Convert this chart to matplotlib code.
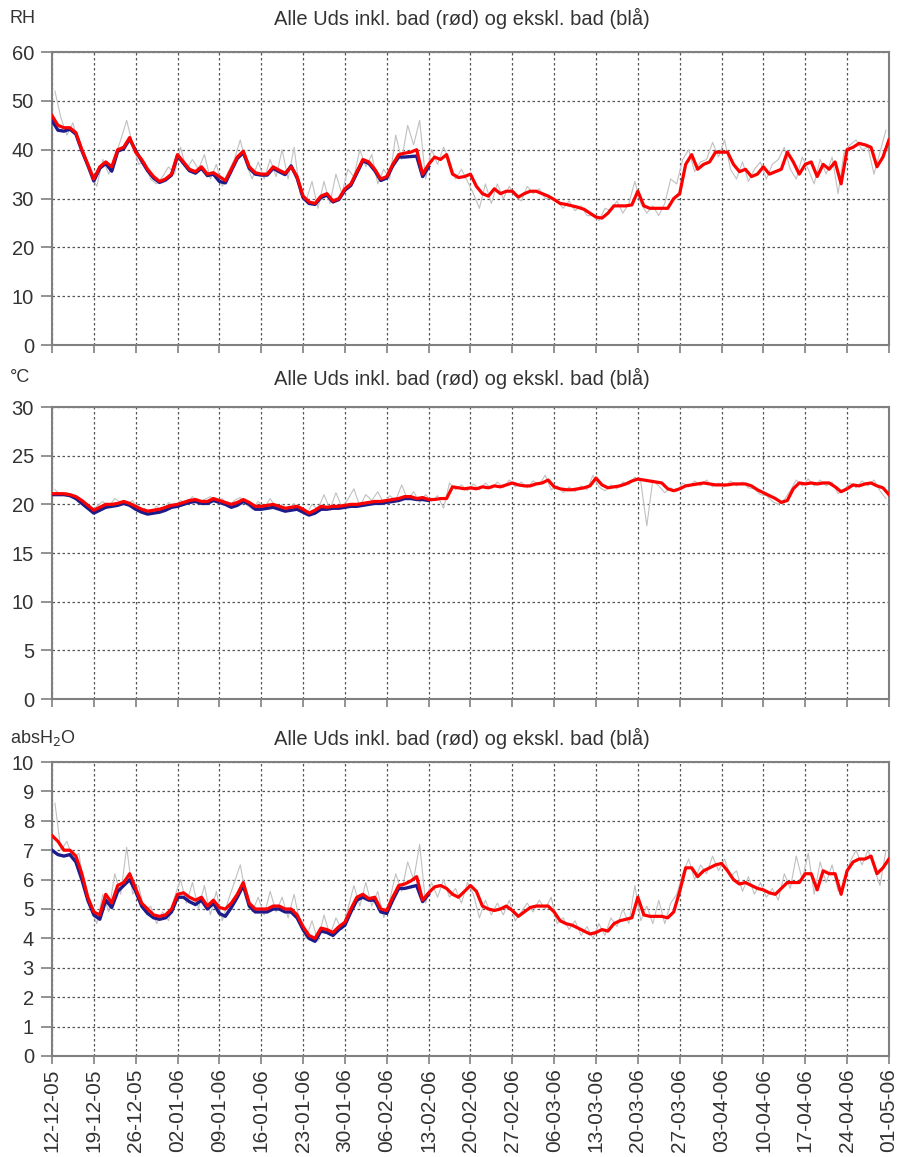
import pandas as pd
import matplotlib
matplotlib.use("Agg")
import matplotlib.pyplot as plt
import matplotlib.dates as mdates

plt.rcParams['font.family'] = ['Liberation Sans', 'DejaVu Sans']

# daily values, day 0 = 12-12-05, day 140 = 01-05-06
rh_red = [
    47, 45, 44.5, 44.5, 43.5, 40, 37, 34, 36.5, 37.5,
    36.5, 40, 40.5, 42.5, 39.5, 38, 36, 34.5, 33.5, 34,
    35, 39, 37.5, 36, 35.5, 36.5, 35, 35.3, 34.5, 33.7,
    36, 38.5, 39.7, 36.5, 35.3, 35, 35, 36.5, 35.8, 35.2,
    36.5, 34.5, 30.5, 29.3, 29, 30.5, 31, 29.5, 30, 32,
    33, 35.5, 38, 37.5, 36, 34, 34.5, 37, 39, 39.3,
    39.5, 40, 35, 37, 38.5, 38, 39, 35, 34.3, 34.5,
    35, 32.5, 31, 30.5, 32, 31, 31.5, 31.5, 30.3, 31,
    31.5, 31.5, 31, 30.5, 29.8, 29, 28.8, 28.5, 28.2, 27.8,
    27, 26.2, 26, 27, 28.5, 28.5, 28.5, 28.7, 31.5, 28.5,
    28, 28, 28, 28, 30, 31, 37, 39, 36, 37,
    37.5, 39.5, 39.5, 39.5, 37, 35.5, 36, 34.5, 35, 36.5,
    35, 35.5, 36, 39.5, 37.5, 35, 37, 37.5, 34.5, 37,
    36, 37.5, 33, 40, 40.5, 41.3, 41, 40.5, 36.5, 38.5,
    42,
]
rh_blue = [
    46, 44, 43.8, 44.2, 43.2, 39.8, 36.8, 33.6, 36.2, 37.2,
    35.6, 39.7, 40.2, 42.2, 39.8, 37.7, 35.7, 34.2, 33.3, 33.8,
    34.8, 38.8, 37.2, 35.7, 35.2, 36.2, 34.7, 35, 33.5, 33.2,
    35.7, 38.2, 39.4, 36.2, 35, 34.8, 34.8, 36.2, 35.5, 34.9,
    36.7, 34.2, 30.2, 29, 28.8, 30.2, 30.7, 29.3, 29.8, 31.7,
    32.7, 35.2, 37.7, 37.2, 35.7, 33.7, 34.2, 36.7, 38.5, 38.5,
    38.6, 38.7, 34.5, 36.5,
]
# raw readings, at mid-day
rh_gray = [
    52, 46.5, 43, 45.5, 41, 39, 35, 32.5, 38, 35,
    38.5, 42, 46, 41, 37, 37.5, 34, 33, 34.5, 36.5,
    35, 40.5, 36, 38, 36, 39, 34, 37, 32.5, 35.5,
    38, 42, 37, 34, 37.5, 34, 38, 34.5, 40, 34,
    40.5, 31, 29.5, 33.5, 28, 33.5, 29, 35, 31, 36,
    34.5, 40, 36.5, 39, 33, 36, 34, 43, 38, 45,
    41, 46, 34, 40, 37, 40.5, 38, 34, 36, 33.5,
    31, 28, 33, 29, 33, 30, 32.5, 30.5, 29.5, 32.5,
    31, 32, 30, 30, 29.5, 28, 29.5, 27.5, 28.5, 26.5,
    26.5, 25.5, 28, 27.5, 29.5, 27, 29, 33.5, 29, 27,
    28.5, 26.5, 29, 34, 33, 38, 40, 35.5, 37.5, 38,
    41.5, 38.5, 42, 36, 34, 37.5, 33.5, 36, 37.5, 34,
    37, 38, 40.5, 36, 34, 38.5, 36, 33, 38, 35,
    38.5, 31, 39.5, 41, 42, 40, 40.5, 35, 39.5, 44,
]

t_red = [
    21.1, 21.1, 21.1, 21.0, 20.8, 20.4, 19.9, 19.4, 19.7, 20.0,
    20.0, 20.1, 20.3, 20.1, 19.8, 19.5, 19.3, 19.4, 19.5, 19.7,
    19.9, 20.0, 20.2, 20.4, 20.5, 20.3, 20.3, 20.6, 20.4, 20.2,
    20.0, 20.2, 20.5, 20.2, 19.8, 19.8, 19.9, 20.0, 19.8, 19.6,
    19.7, 19.8, 19.5, 19.1, 19.4, 19.8, 19.7, 19.8, 19.8, 19.9,
    20.0, 20.0, 20.1, 20.2, 20.3, 20.3, 20.4, 20.5, 20.6, 20.8,
    20.8, 20.6, 20.7, 20.5, 20.5, 20.6, 20.6, 21.8, 21.7, 21.6,
    21.7, 21.6, 21.8, 21.7, 21.9, 21.8, 22.0, 22.2, 22.0, 21.9,
    21.9, 22.1, 22.2, 22.5, 21.8, 21.6, 21.5, 21.5, 21.6, 21.7,
    21.9, 22.7, 22.0, 21.7, 21.8, 21.9, 22.1, 22.4, 22.6, 22.5,
    22.4, 22.3, 22.2, 21.6, 21.4, 21.6, 21.9, 22.0, 22.1, 22.2,
    22.1, 22.0, 22.0, 22.0, 22.1, 22.1, 22.1, 21.9, 21.5, 21.2,
    20.9, 20.6, 20.2, 20.4, 21.6, 22.2, 22.1, 22.2, 22.1, 22.2,
    22.2, 21.8, 21.3, 21.6, 22.0, 21.9, 22.1, 22.2, 21.9, 21.7,
    21.0,
]
t_blue = [
    21.0, 21.0, 21.0, 20.9, 20.6, 20.1, 19.6, 19.1, 19.4, 19.7,
    19.8, 19.9, 20.1, 19.9, 19.5, 19.2, 19.0, 19.1, 19.2, 19.4,
    19.7, 19.8, 20.0, 20.2, 20.3, 20.1, 20.1, 20.4, 20.2, 20.0,
    19.7, 19.9, 20.3, 20.0, 19.5, 19.5, 19.6, 19.7, 19.5, 19.3,
    19.4, 19.5, 19.2, 18.9, 19.1, 19.5, 19.5, 19.6, 19.6, 19.7,
    19.8, 19.8, 19.9, 20.0, 20.1, 20.1, 20.2, 20.3, 20.4, 20.6,
    20.6, 20.5, 20.5, 20.4,
]
t_gray = [
    21.5, 21.0, 21.2, 20.9, 20.5, 20.0, 19.3, 19.8, 20.3, 19.8,
    20.6, 20.2, 20.0, 20.4, 19.3, 19.6, 19.0, 19.8, 19.3, 20.2,
    19.8, 20.4, 20.1, 20.8, 20.2, 20.5, 20.8, 20.2, 20.6, 19.7,
    20.4, 20.7, 20.0, 19.5, 20.3, 19.6, 20.6, 19.6, 20.0, 19.4,
    20.1, 19.3, 18.9, 20.0, 19.5, 21.0, 19.5, 21.2, 19.7, 20.5,
    21.6, 19.8, 21.0, 20.4, 21.3, 20.1, 20.9, 20.4, 22.0, 20.5,
    21.3, 20.2, 21.0, 20.3, 20.9, 19.6, 22.2, 21.5, 22.0, 21.4,
    22.1, 21.5, 22.2, 21.6, 22.3, 21.7, 22.5, 21.8, 22.3, 21.7,
    22.4, 22.0, 23.0, 21.5, 21.9, 21.2, 21.8, 21.3, 21.9, 21.5,
    23.0, 21.8, 21.4, 22.0, 21.6, 22.3, 22.0, 22.8, 22.3, 17.8,
    22.5, 21.9, 21.2, 21.7, 21.3, 22.2, 21.8, 22.4, 21.9, 22.5,
    21.8, 22.2, 21.8, 22.4, 21.9, 22.3, 21.7, 21.6, 21.0, 20.9,
    20.3, 20.0, 20.5, 21.4, 22.5, 21.9, 22.6, 21.9, 22.5, 21.9,
    22.3, 21.1, 21.5, 22.2, 21.7, 22.4, 21.9, 22.5, 21.4, 20.6,
]

h2o_red = [
    7.5, 7.3, 7.0, 7.0, 6.8, 6.2, 5.4, 4.9, 4.8, 5.5,
    5.2, 5.8, 5.9, 6.2, 5.7, 5.2, 5.0, 4.8, 4.75, 4.8,
    5.0, 5.5, 5.55, 5.4, 5.3, 5.4, 5.1, 5.3, 5.05, 5.0,
    5.2, 5.5, 5.9, 5.2, 5.0, 5.0, 5.0, 5.1, 5.1, 5.0,
    5.0, 4.8, 4.4, 4.1, 4.0, 4.35, 4.3, 4.2, 4.4, 4.55,
    5.0, 5.4, 5.5, 5.35, 5.4, 5.0, 4.95, 5.4, 5.8, 5.85,
    5.95, 6.1, 5.3, 5.55, 5.75, 5.8, 5.7, 5.5, 5.4, 5.6,
    5.8, 5.6, 5.1, 5.0, 4.95, 5.0, 5.1, 4.95, 4.75, 4.9,
    5.05, 5.1, 5.1, 5.1, 4.9, 4.6, 4.5, 4.45, 4.35, 4.25,
    4.15, 4.2, 4.3, 4.25, 4.5, 4.6, 4.65, 4.7, 5.4, 4.8,
    4.75, 4.75, 4.75, 4.7, 4.9, 5.6, 6.4, 6.4, 6.1, 6.3,
    6.4, 6.5, 6.55, 6.3, 6.0, 5.85, 5.9, 5.8, 5.7, 5.65,
    5.55, 5.5, 5.7, 5.9, 5.9, 5.9, 6.2, 6.2, 5.65, 6.3,
    6.2, 6.2, 5.5, 6.3, 6.6, 6.7, 6.7, 6.8, 6.2, 6.4,
    6.7,
]
h2o_blue = [
    7.0, 6.85, 6.8, 6.85, 6.6, 6.0, 5.3, 4.8, 4.65, 5.3,
    5.05, 5.6, 5.8, 6.0, 5.6, 5.1, 4.85, 4.7, 4.65, 4.7,
    4.9, 5.4, 5.4, 5.25, 5.15, 5.3, 5.0, 5.2, 4.85, 4.75,
    5.05, 5.4, 5.8, 5.1, 4.9, 4.9, 4.9, 5.0, 5.0, 4.9,
    4.9, 4.7, 4.3, 4.0, 3.9, 4.25, 4.2, 4.1, 4.3, 4.45,
    4.9, 5.3, 5.4, 5.3, 5.3, 4.9, 4.85, 5.3, 5.7, 5.7,
    5.75, 5.8, 5.25, 5.5,
]
h2o_gray = [
    8.6, 7.0, 7.3, 6.7, 6.9, 5.6, 5.0, 4.5, 5.5, 4.9,
    6.2, 5.5, 7.1, 5.5, 5.8, 4.9, 5.1, 4.5, 4.9, 4.6,
    5.4, 6.0, 5.2, 5.9, 5.0, 5.8, 4.8, 5.6, 4.6, 5.3,
    5.9, 6.5, 5.4, 4.9, 5.4, 4.8, 5.6, 4.9, 5.4, 4.7,
    5.5, 4.5, 4.0, 4.6, 3.9, 4.8, 4.1, 4.7, 4.3, 5.0,
    5.8, 5.1, 5.9, 5.1, 5.6, 4.7, 5.3, 6.2, 5.6, 6.6,
    6.0, 7.2, 5.2, 5.9, 5.4, 6.0, 5.4, 5.7, 5.2, 5.9,
    5.5, 4.7, 5.3, 4.8, 5.2, 4.8, 5.3, 4.6, 4.9, 5.2,
    4.9, 5.3, 5.0, 5.4, 4.5, 4.7, 4.3, 4.6, 4.1, 4.4,
    4.0, 4.5, 4.1, 4.7, 4.4, 5.0, 4.5, 5.8, 4.6, 5.1,
    4.5, 5.3, 4.5, 5.2, 5.5, 6.2, 6.7, 6.0, 6.5, 6.2,
    6.8, 6.3, 6.7, 6.1, 6.3, 5.6, 6.1, 5.5, 5.9, 5.4,
    5.7, 5.3, 6.2, 5.7, 6.8, 6.0, 6.9, 5.5, 6.6, 5.9,
    6.5, 5.6, 5.9, 6.6, 7.0, 6.5, 7.0, 6.4, 5.8, 7.0,
]

title = "Alle Uds inkl. bad (rød) og ekskl. bad (blå)"
units = ["RH", "°C", "absH$_2$O"]
ymax = [60, 30, 10]
ystep = [10, 5, 1]

days = pd.date_range("2005-12-12", periods=len(rh_red), freq="D")
half_days = days[:-1] + pd.Timedelta(hours=12)
week_ticks = pd.date_range("2005-12-12", "2006-05-01", freq="7D")

panels = [
    (rh_red, rh_blue, rh_gray),
    (t_red, t_blue, t_gray),
    (h2o_red, h2o_blue, h2o_gray),
]

fig = plt.figure(figsize=(8.99, 11.57), dpi=100)
boxes = [(0.0578, 0.7018, 0.931, 0.2532),
         (0.0578, 0.3958, 0.931, 0.2524),
         (0.0578, 0.0873, 0.931, 0.2541)]
title_y = [0.9844, 0.6733, 0.3621]

for i, (red, blue, gray) in enumerate(panels):
    ax = fig.add_axes(boxes[i])
    ax.plot(half_days, gray, color='#c0c0c0', lw=0.8, zorder=2)
    ax.plot(days[:len(blue)], blue, color='#1c1c8a', lw=2.4, zorder=3)
    ax.plot(days, red, color='#ff0000', lw=2.3, zorder=4)

    ax.set_xlim(days[0], days[-1])
    ax.set_ylim(0, ymax[i])
    ax.set_yticks(range(0, ymax[i] + 1, ystep[i]))
    ax.set_xticks(week_ticks)
    if i == 2:
        ax.xaxis.set_major_formatter(mdates.DateFormatter('%d-%m-%y'))
        plt.setp(ax.get_xticklabels(), rotation=90, fontsize=15, color='#333333')
    else:
        ax.set_xticklabels([])
    ax.tick_params(axis='y', labelsize=14.5, labelcolor='#333333', length=8, pad=5,
                   color='#808080', width=1.2)
    ax.tick_params(axis='x', length=6, pad=3, color='#808080', width=1.2)
    ax.grid(True, color='#555555', linestyle=(0, (2, 2)), lw=0.9)
    for s in ax.spines.values():
        s.set_color('#808080')
        s.set_linewidth(1.5)

    fig.text(0.011, title_y[i], units[i], fontsize=13, color='#333333', va='center', ha='left')
    fig.text(0.514, title_y[i], title, fontsize=14.5, color='#333333', va='center', ha='center')

fig.savefig("out.png", dpi=100)
